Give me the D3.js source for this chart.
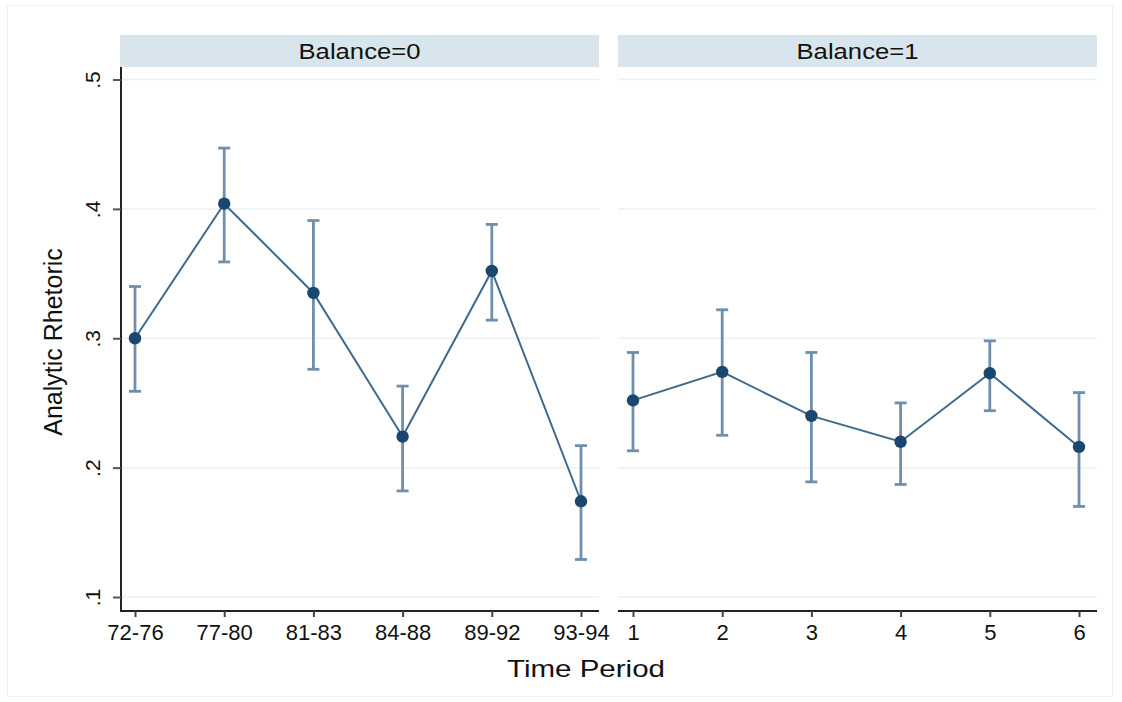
<!DOCTYPE html>
<html>
<head>
<meta charset="utf-8">
<script src="https://cdn.jsdelivr.net/npm/d3@7/dist/d3.min.js"></script>
<style>
  html, body { margin: 0; padding: 0; background: #fff; }
  svg { display: block; font-family: "Liberation Sans", Arial, Helvetica, sans-serif; }
</style>
</head>
<body>
<svg id="chart" width="1122" height="702"></svg>
<script>
// Mean analytic rhetoric by time period, with 95% confidence intervals
const panelTitles = ["Balance=0", "Balance=1"];
const periodLabels0 = ["72-76", "77-80", "81-83", "84-88", "89-92", "93-94"];
const periodLabels1 = ["1", "2", "3", "4", "5", "6"];

const mean0 = [0.300, 0.404, 0.335, 0.224, 0.352, 0.174];
const lower0 = [0.259, 0.359, 0.276, 0.182, 0.314, 0.129];
const upper0 = [0.340, 0.447, 0.391, 0.263, 0.388, 0.217];

const mean1 = [0.252, 0.274, 0.240, 0.220, 0.273, 0.216];
const lower1 = [0.213, 0.225, 0.189, 0.187, 0.244, 0.170];
const upper1 = [0.289, 0.322, 0.289, 0.250, 0.298, 0.258];

const yTicks = [0.1, 0.2, 0.3, 0.4, 0.5];
const yTickLabels = [".1", ".2", ".3", ".4", ".5"];

const panels = [
  { title: panelTitles[0], labels: periodLabels0, mean: mean0, lo: lower0, hi: upper0, left: 120, right: 599 },
  { title: panelTitles[1], labels: periodLabels1, mean: mean1, lo: lower1, hi: upper1, left: 618, right: 1097 }
];

const svg = d3.select("#chart");
const font = "Liberation Sans, Arial, sans-serif";

// outer frame
svg.append("rect")
  .attr("x", 7.5).attr("y", 5.5).attr("width", 1105).attr("height", 691)
  .attr("fill", "none").attr("stroke", "#eef0f3").attr("stroke-width", 1);

const plotTop = 67, plotBottom = 611;
const y = d3.scaleLinear().domain([0.1, 0.5]).range([597, 79.5]);

const lineColor = "#3f6a8e";
const ciColor = "#6f8fad";
const pointColor = "#1a476f";

panels.forEach((p, pi) => {
  const g = svg.append("g");
  const x = d3.scaleLinear().domain([1, 6]).range([p.left + 15, p.right - 18]);
  const idx = d3.range(p.mean.length);

  // strip header
  g.append("rect")
    .attr("x", p.left).attr("y", 35).attr("width", p.right - p.left).attr("height", 32)
    .attr("fill", "#d9e5ec");
  g.append("text")
    .attr("x", (p.left + p.right) / 2 - 61).attr("y", 59)
    .attr("font-size", 22).attr("fill", "#111")
    .attr("textLength", 122).attr("lengthAdjust", "spacingAndGlyphs")
    .text(p.title);

  // horizontal gridlines
  g.selectAll("line.grid").data(yTicks).join("line")
    .attr("class", "grid")
    .attr("x1", p.left + (pi === 0 ? 1 : 0)).attr("x2", p.right)
    .attr("y1", d => y(d)).attr("y2", d => y(d))
    .attr("stroke", "#eaf1f3").attr("stroke-width", 1.5);

  // x axis
  const xAxis = d3.axisBottom(x)
    .tickValues(d3.range(1, 7))
    .tickFormat((d, i) => p.labels[i])
    .tickSize(6).tickSizeOuter(0);
  const xa = g.append("g").attr("transform", `translate(0,${plotBottom})`).call(xAxis);
  xa.select(".domain").attr("d", `M${p.left},0H${p.right}`).attr("stroke", "#222").attr("stroke-width", 2);
  xa.selectAll(".tick line").attr("stroke", "#444").attr("stroke-width", 2);
  xa.selectAll(".tick text")
    .attr("font-size", 22).attr("fill", "#111").attr("font-family", font)
    .attr("y", 29).attr("dy", null);

  // confidence interval bars
  g.selectAll("line.ci").data(idx).join("line")
    .attr("class", "ci")
    .attr("x1", i => x(i + 1)).attr("x2", i => x(i + 1))
    .attr("y1", i => y(p.lo[i])).attr("y2", i => y(p.hi[i]))
    .attr("stroke", ciColor).attr("stroke-width", 2.8);
  ["lo", "hi"].forEach(k => {
    g.selectAll("line.cap-" + k).data(idx).join("line")
      .attr("class", "cap-" + k)
      .attr("x1", i => x(i + 1) - 6).attr("x2", i => x(i + 1) + 6)
      .attr("y1", i => y(p[k][i])).attr("y2", i => y(p[k][i]))
      .attr("stroke", ciColor).attr("stroke-width", 2.8);
  });

  // connecting line
  const line = d3.line().x((d, i) => x(i + 1)).y(d => y(d));
  g.append("path").datum(p.mean)
    .attr("d", line).attr("fill", "none")
    .attr("stroke", lineColor).attr("stroke-width", 2);

  // point estimates
  g.selectAll("circle").data(p.mean).join("circle")
    .attr("cx", (d, i) => x(i + 1)).attr("cy", d => y(d))
    .attr("r", 6.2).attr("fill", pointColor);
});

// y axis on the left panel
const yAxis = d3.axisLeft(y).tickValues(yTicks)
  .tickFormat((d, i) => yTickLabels[i]).tickSize(8).tickSizeOuter(0);
const ya = svg.append("g").attr("transform", "translate(121,0)").call(yAxis);
ya.select(".domain").attr("d", `M0,${plotTop}V${plotBottom + 1}`).attr("stroke", "#222").attr("stroke-width", 2);
ya.selectAll(".tick line").attr("stroke", "#555").attr("stroke-width", 2);
ya.selectAll(".tick text")
  .attr("font-size", 21).attr("fill", "#111").attr("font-family", font)
  .attr("text-anchor", "middle").attr("dy", null)
  .attr("x", null)
  .attr("transform", "translate(-21,0) rotate(-90)");

// axis titles
svg.append("text")
  .attr("x", 586 - 79).attr("y", 677)
  .attr("font-size", 24).attr("fill", "#111")
  .attr("textLength", 158).attr("lengthAdjust", "spacingAndGlyphs")
  .text("Time Period");
svg.append("text")
  .attr("transform", "translate(62,342) rotate(-90)")
  .attr("text-anchor", "middle")
  .attr("font-size", 25).attr("fill", "#111")
  .text("Analytic Rhetoric");
</script>
</body>
</html>
